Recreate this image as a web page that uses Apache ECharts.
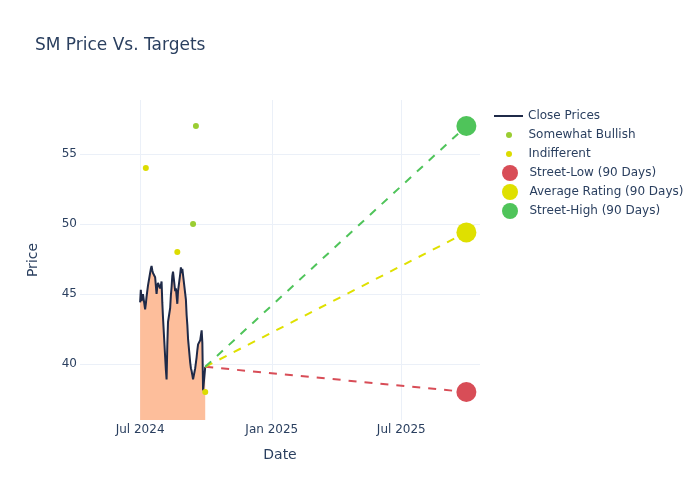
<!DOCTYPE html>
<html>
<head>
<meta charset="utf-8">
<script src="https://cdn.jsdelivr.net/npm/echarts@6/dist/echarts.min.js"></script>
<style>html,body{margin:0;padding:0;background:#fff}#c{width:700px;height:500px}</style>
</head>
<body>
<div id="c"></div>
<script>
const closeDates = ['2024-07-01','2024-07-02','2024-07-03','2024-07-05','2024-07-08','2024-07-09','2024-07-10','2024-07-11','2024-07-12','2024-07-15','2024-07-16','2024-07-17','2024-07-18','2024-07-19','2024-07-22','2024-07-23','2024-07-24','2024-07-25','2024-07-26','2024-07-29','2024-07-30','2024-07-31','2024-08-01','2024-08-02','2024-08-05','2024-08-06','2024-08-07','2024-08-08','2024-08-09','2024-08-12','2024-08-13','2024-08-14','2024-08-15','2024-08-16','2024-08-19','2024-08-20','2024-08-21','2024-08-22','2024-08-23','2024-08-26','2024-08-27','2024-08-28','2024-08-29','2024-08-30','2024-09-03','2024-09-04','2024-09-05','2024-09-06','2024-09-09','2024-09-10','2024-09-11','2024-09-12','2024-09-13','2024-09-16','2024-09-17','2024-09-18','2024-09-19','2024-09-20','2024-09-23','2024-09-24','2024-09-25','2024-09-26','2024-09-27','2024-09-30'];
const closePrices = [44.4,45.3,44.5,45.0,43.9,44.3,44.8,45.2,45.6,46.5,46.8,47.0,46.7,46.5,46.2,45.6,45.0,45.5,45.8,45.4,45.6,45.9,44.4,43.3,40.5,39.6,38.9,41.3,43.0,44.0,44.9,45.5,46.3,46.6,45.2,45.4,45.3,44.3,45.2,46.4,46.9,46.5,46.8,46.7,44.6,43.5,42.8,41.8,40.1,39.7,39.5,39.2,38.9,39.7,40.1,40.5,41.0,41.4,41.7,41.8,42.4,41.5,38.1,39.8];
const bullishDates = ['2024-09-13','2024-09-17'];
const bullishValues = [50, 57];
const indiffDates = ['2024-07-09','2024-08-22','2024-09-30'];
const indiffValues = [54, 48, 38];
const targetDate = '2025-09-30';
const streetLow = 38;
const avgRating = 49.4;
const streetHigh = 57;
const yTicks = [40, 45, 50, 55];
const xTickDates = ['2024-07-01','2025-01-01','2025-07-01'];

const months = ['Jan','Feb','Mar','Apr','May','Jun','Jul','Aug','Sep','Oct','Nov','Dec'];
function ts(s){ const p = s.split('-').map(Number); return Date.UTC(p[0], p[1]-1, p[2]); }
const lastDate = closeDates[closeDates.length-1];
const lastPrice = closePrices[closePrices.length-1];
const FONT = 'DejaVu Sans';
const TXT = '#2a3f5f';
const C_LOW = '#d84d57', C_AVG = '#dfe000', C_HIGH = '#4fc45a', C_BULL = '#9acd32', C_IND = '#dcdc00';

const chart = echarts.init(document.getElementById('c'));
chart.setOption({
  animation: false,
  backgroundColor: '#fff',
  title: { text: 'SM Price Vs. Targets', left: 35, top: 37, padding: 0,
    textStyle: { fontFamily: FONT, fontSize: 17, fontWeight: 'normal', color: TXT } },
  grid: { left: 80, right: 220, top: 100, bottom: 80, containLabel: false },
  legend: [
    { data: [{name: 'Close Prices', icon: 'rect'}], orient: 'vertical', left: 494, top: 110, padding: 0,
      itemWidth: 29, itemHeight: 2, textStyle: { fontFamily: FONT, fontSize: 12, color: TXT } },
    { data: [{name: 'Somewhat Bullish', icon: 'circle'}, {name: 'Indifferent', icon: 'circle'}], orient: 'vertical', left: 506, top: 129, padding: 0,
      itemWidth: 29, itemHeight: 6, itemGap: 7, textStyle: { fontFamily: FONT, fontSize: 12, color: TXT } },
    { data: [{name: 'Street-Low (90 Days)', icon: 'circle'}, {name: 'Average Rating (90 Days)', icon: 'circle'}, {name: 'Street-High (90 Days)', icon: 'circle'}], orient: 'vertical', left: 502, top: 165, padding: 0,
      itemWidth: 29, itemHeight: 16, itemGap: 3, textStyle: { fontFamily: FONT, fontSize: 12, color: TXT } }
  ],
  xAxis: {
    type: 'value', min: ts('2024-04-08'), max: ts('2025-10-19'),
    name: 'Date', nameLocation: 'middle', nameGap: 28,
    nameTextStyle: { fontFamily: FONT, fontSize: 14, color: TXT },
    axisLine: { show: false }, axisTick: { show: false, customValues: xTickDates.map(ts) },
    axisLabel: { customValues: xTickDates.map(ts), fontFamily: FONT, fontSize: 12, color: TXT, margin: 4,
      formatter: v => { const d = new Date(v); return months[d.getUTCMonth()] + ' ' + d.getUTCFullYear(); } },
    splitLine: { show: true, lineStyle: { color: '#ebf0f8', width: 1 } }
  },
  yAxis: {
    type: 'value', min: 36, max: 58.86,
    name: 'Price', nameLocation: 'middle', nameGap: 40,
    nameTextStyle: { fontFamily: FONT, fontSize: 14, color: TXT },
    axisLine: { show: false }, axisTick: { show: false, customValues: yTicks },
    axisLabel: { customValues: yTicks, fontFamily: FONT, fontSize: 12, color: TXT, margin: 3 },
    splitLine: { show: true, lineStyle: { color: '#ebf0f8', width: 1 } }
  },
  series: [
    { name: 'Close Prices', type: 'line', data: closeDates.map((d,i) => [ts(d), closePrices[i]]),
      showSymbol: false, symbol: 'none', color: '#1f2a48',
      lineStyle: { color: '#1f2a48', width: 2 },
      areaStyle: { color: '#fdbe9b', opacity: 1, origin: 'start' }, z: 2 },
    { name: 'lowLine', type: 'line', data: [[ts(lastDate), lastPrice], [ts(targetDate), streetLow]],
      showSymbol: false, symbol: 'none', lineStyle: { color: C_LOW, width: 2, type: [8, 8] }, z: 3 },
    { name: 'avgLine', type: 'line', data: [[ts(lastDate), lastPrice], [ts(targetDate), avgRating]],
      showSymbol: false, symbol: 'none', lineStyle: { color: C_AVG, width: 2, type: [8, 8] }, z: 3 },
    { name: 'highLine', type: 'line', data: [[ts(lastDate), lastPrice], [ts(targetDate), streetHigh]],
      showSymbol: false, symbol: 'none', lineStyle: { color: C_HIGH, width: 2, type: [8, 8] }, z: 3 },
    { name: 'Somewhat Bullish', type: 'scatter', data: bullishDates.map((d,i) => [ts(d), bullishValues[i]]),
      symbolSize: 6, itemStyle: { color: C_BULL, opacity: 1 }, color: C_BULL, z: 4 },
    { name: 'Indifferent', type: 'scatter', data: indiffDates.map((d,i) => [ts(d), indiffValues[i]]),
      symbolSize: 6, itemStyle: { color: C_IND, opacity: 1 }, color: C_IND, z: 4 },
    { name: 'Street-Low (90 Days)', type: 'scatter', data: [[ts(targetDate), streetLow]],
      symbolSize: 20, itemStyle: { color: C_LOW, opacity: 1 }, color: C_LOW, z: 5 },
    { name: 'Average Rating (90 Days)', type: 'scatter', data: [[ts(targetDate), avgRating]],
      symbolSize: 20, itemStyle: { color: C_AVG, opacity: 1 }, color: C_AVG, z: 5 },
    { name: 'Street-High (90 Days)', type: 'scatter', data: [[ts(targetDate), streetHigh]],
      symbolSize: 20, itemStyle: { color: C_HIGH, opacity: 1 }, color: C_HIGH, z: 5 }
  ]
});
</script>
</body>
</html>
